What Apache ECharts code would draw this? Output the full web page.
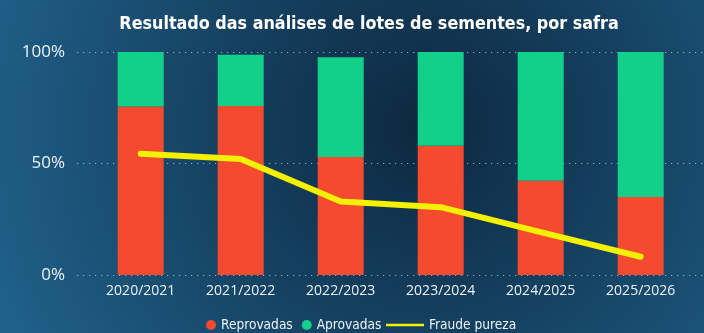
<!DOCTYPE html>
<html><head><meta charset="utf-8">
<script src="https://cdn.jsdelivr.net/npm/echarts@6/dist/echarts.min.js"></script>
<style>html,body{margin:0;padding:0;}#c{width:704px;height:333px;}</style>
</head><body><div id="c"></div>
<script>
const categories = ['2020/2021','2021/2022','2022/2023','2023/2024','2024/2025','2025/2026'];
const reprovadas = [75.6, 75.8, 52.9, 58.0, 42.3, 35.0];
const aprovadas = [24.4, 23.0, 44.7, 42.0, 57.7, 65.0];
const fraudePureza = [54.4, 52.0, 33.0, 30.4, 19.2, 8.2];
const yTicks = [0, 50, 100];

const chart = echarts.init(document.getElementById('c'));
const white = '#eef3f7';
const condensed = "'DejaVu Sans Condensed',sans-serif";
chart.setOption({
  animation: false,
  backgroundColor: {type:'radial', x:0.6, y:0.38, r:1.35, colorStops:[
    {offset:0, color:'#0d2840'}, {offset:1, color:'#1f5f88'}]},
  title: {text:'Resultado das análises de lotes de sementes, por safra', left:364, textAlign:'center', top:10,
    textStyle:{color:'#ffffff', fontSize:17.8, fontWeight:'bold', fontFamily:condensed}},
  legend: [
    {data:['Reprovadas','Aprovadas'], left:201, top:313, icon:'circle', itemWidth:10, itemHeight:10, itemGap:9,
     padding:5, textStyle:{color:white, fontSize:13.6, fontFamily:condensed}},
    {data:['Fraude pureza'], left:381, top:313, itemWidth:38, itemHeight:2.5, icon:'rect', padding:5,
     textStyle:{color:white, fontSize:13.6, fontFamily:condensed}}
  ],
  grid: [
    {left:77, right:0, top:52, bottom:58},
    {left:90.7, right:13.3, top:52, bottom:58}
  ],
  xAxis: [
    {gridIndex:0, type:'value', show:false, min:0, max:1},
    {gridIndex:1, type:'category', data:categories, axisLine:{show:false}, axisTick:{show:false},
     axisLabel:{color:white, fontSize:14, margin:9, fontFamily:"'Open Sans',sans-serif"}}
  ],
  yAxis: [
    {gridIndex:0, type:'value', min:0, max:100, interval:50,
     axisLabel:{color:white, fontSize:17, margin:12, fontFamily:"'Open Sans',sans-serif",
       formatter: v => yTicks.includes(v) ? v + '%' : ''},
     axisLine:{show:false}, axisTick:{show:false},
     splitLine:{lineStyle:{color:'rgba(190,210,225,0.75)', width:1.2, type:[1.2,4.8]}}},
    {gridIndex:1, type:'value', min:0, max:100, show:false, splitLine:{show:false}}
  ],
  series: [
    {name:'Reprovadas', type:'bar', xAxisIndex:1, yAxisIndex:1, stack:'a', data:reprovadas, barWidth:'46%',
     itemStyle:{color:'#f44a2f'}},
    {name:'Aprovadas', type:'bar', xAxisIndex:1, yAxisIndex:1, stack:'a', data:aprovadas, barWidth:'46%',
     itemStyle:{color:'#12cf8a'}},
    {name:'Fraude pureza', type:'line', xAxisIndex:1, yAxisIndex:1, data:fraudePureza, showSymbol:false, symbol:'none',
     z:5, itemStyle:{color:'#f3f000'}, lineStyle:{color:'#f3f000', width:6, cap:'round', join:'round'}}
  ]
});
</script></body></html>
